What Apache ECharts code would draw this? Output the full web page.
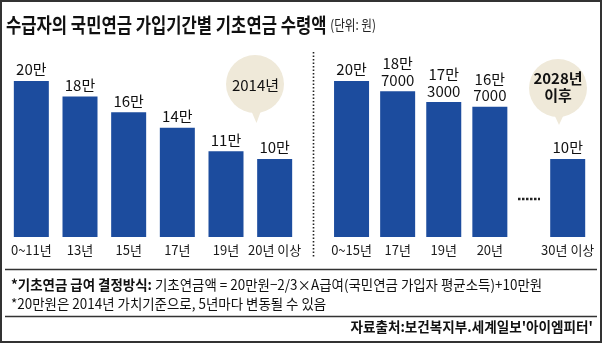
<!DOCTYPE html>
<html><head><meta charset="utf-8">
<script src="https://cdn.jsdelivr.net/npm/echarts@6/dist/echarts.min.js"></script>
<style>html,body{margin:0;padding:0;background:#fff}#c{width:602px;height:343px}</style>
</head><body><div id="c"></div>
<script>
// 단위: 만원
const leftCategories = ['0~11년', '13년', '15년', '17년', '19년', '20년 이상'];
const leftValues = [20, 18, 16, 14, 11, 10];
const rightCategories = ['0~15년', '17년', '19년', '20년'];
const rightValues = [20, 18.7, 17.3, 16.7];
const lastCategories = ['30년 이상'];
const lastValues = [10];
const yMax = 25;

const FONT = "'Noto Sans CJK KR', 'Noto Sans', sans-serif";
const BAR = '#1c4c9e';
const BUBBLE = '#efe9d9';

function fmt(v) {
  const man = Math.floor(v + 1e-9);
  const rest = Math.round((v - man) * 10000);
  return rest > 0 ? man + '만\n' + rest : man + '만';
}

const grids = [
  {left: 7, width: 292, top: 42, height: 195},
  {left: 328.5, width: 184.4, top: 42, height: 195},
  {left: 544.7, width: 46, top: 42, height: 195}
];
const cats = [leftCategories, rightCategories, lastCategories];
const vals = [leftValues, rightValues, lastValues];

const option = {
  backgroundColor: '#fff',
  animation: false,
  grid: grids,
  xAxis: cats.map((c, i) => ({
    type: 'category', gridIndex: i, data: c,
    axisLine: {show: false}, axisTick: {show: false},
    axisLabel: {margin: 7, fontSize: 13, color: '#1a1a1a', fontFamily: FONT, interval: 0}
  })),
  yAxis: cats.map((c, i) => ({
    type: 'value', gridIndex: i, min: 0, max: yMax, show: false, splitLine: {show: false}
  })),
  series: vals.map((v, i) => ({
    type: 'bar', xAxisIndex: i, yAxisIndex: i, data: v, barWidth: 35,
    itemStyle: {color: BAR},
    label: {
      show: true, position: 'top', distance: 3,
      formatter: p => fmt(p.value),
      fontSize: 15, lineHeight: 16.5, color: '#111', fontFamily: FONT
    }
  })),
  graphic: [
    {type: 'rect', shape: {x: 1, y: 1, width: 600, height: 341},
     style: {fill: 'none', stroke: '#333', lineWidth: 2}, z: 10},
    {type: 'text', x: 6, y: 25, scaleX: 0.83,
     style: {text: '{m|수급자의 국민연금 가입기간별 기초연금 수령액} {u|(단위: 원)}',
       rich: {
         m: {fontSize: 20, fontWeight: 'bold', fontFamily: FONT, fill: '#111'},
         u: {fontSize: 14, fontWeight: 'normal', fontFamily: FONT, fill: '#222'}
       },
       fontSize: 20, fontFamily: FONT, textAlign: 'left', textVerticalAlign: 'middle'}},
    // dotted separator
    {type: 'line', shape: {x1: 313.5, y1: 52, x2: 313.5, y2: 258},
     style: {stroke: '#222', lineWidth: 1.6, lineDash: [1.5, 2]}},
    // left bubble
    {type: 'polygon', shape: {points: [[250, 108], [262, 108], [256.5, 123]]}, style: {fill: BUBBLE}},
    {type: 'circle', shape: {cx: 255, cy: 84, r: 29}, style: {fill: BUBBLE}},
    {type: 'text', x: 255.5, y: 85,
     style: {text: '2014년', fontSize: 15, fontFamily: FONT, fill: '#111',
       textAlign: 'center', textVerticalAlign: 'middle'}},
    // right bubble
    {type: 'polygon', shape: {points: [[553, 112], [565, 112], [559, 125]]}, style: {fill: BUBBLE}},
    {type: 'circle', shape: {cx: 558, cy: 88, r: 29}, style: {fill: BUBBLE}},
    {type: 'text', x: 558, y: 78,
     style: {text: '2028년', fontSize: 15, fontWeight: 'bold', fontFamily: FONT, fill: '#111',
       textAlign: 'center', textVerticalAlign: 'middle'}},
    {type: 'text', x: 558, y: 95.5,
     style: {text: '이후', fontSize: 15, fontWeight: 'bold', fontFamily: FONT, fill: '#111',
       textAlign: 'center', textVerticalAlign: 'middle'}},
    // dots between bars
    {type: 'line', shape: {x1: 518, y1: 199, x2: 540, y2: 199},
     style: {stroke: '#222', lineWidth: 2.5, lineDash: [2.5, 1.5]}},
    // separators
    {type: 'line', shape: {x1: 5, y1: 269.5, x2: 597, y2: 269.5}, style: {stroke: '#333', lineWidth: 1.5}},
    {type: 'line', shape: {x1: 5, y1: 316.5, x2: 597, y2: 316.5}, style: {stroke: '#333', lineWidth: 1.5}},
    // footnotes
    {type: 'text', x: 11, y: 284.5, scaleX: 0.96,
     style: {text: '{b|*기초연금 급여 결정방식:} {r|기초연금액 = 20만원−2/3×A급여(국민연금 가입자 평균소득)+10만원}',
       rich: {
         b: {fontSize: 14, fontWeight: 'bold', fontFamily: FONT, fill: '#111'},
         r: {fontSize: 14, fontWeight: 'normal', fontFamily: FONT, fill: '#111'}
       },
       fontSize: 14, fontFamily: FONT, textAlign: 'left', textVerticalAlign: 'middle'}},
    {type: 'text', x: 11, y: 303.5, scaleX: 0.96,
     style: {text: '*20만원은 2014년 가치기준으로, 5년마다 변동될 수 있음',
       fontSize: 14, fontFamily: FONT, fill: '#111', textAlign: 'left', textVerticalAlign: 'middle'}},
    {type: 'text', x: 593, y: 327, scaleX: 0.97,
     style: {text: "자료출처:보건복지부.세계일보'아이엠피터'",
       fontSize: 14, fontWeight: 'bold', fontFamily: FONT, fill: '#111', textAlign: 'right', textVerticalAlign: 'middle'}}
  ]
};
const chart = echarts.init(document.getElementById('c'), null, {renderer: 'canvas'});
chart.setOption(option);
</script></body></html>
